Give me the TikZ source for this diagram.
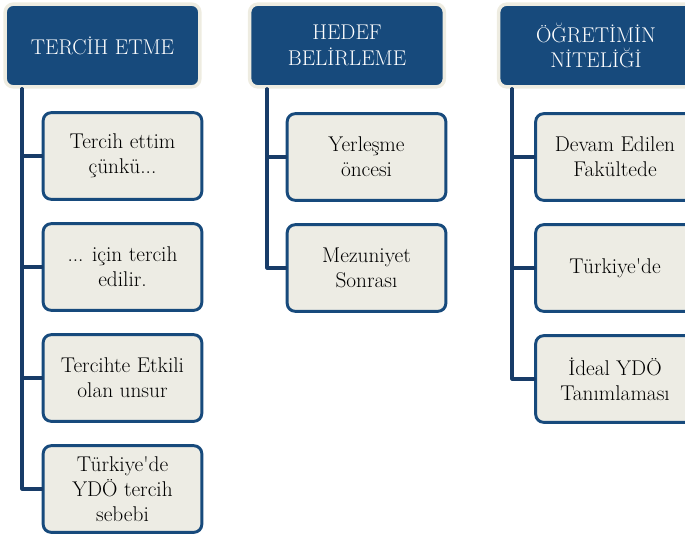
\documentclass[tikz,border=0pt]{standalone}
\usepackage{fontspec}
\setmainfont{Latin Modern Roman}[Ligatures=TeXOff]
\usetikzlibrary{positioning}
\definecolor{hdrblue}{RGB}{23,74,124}
\definecolor{boxfill}{RGB}{237,236,228}
\definecolor{halo}{RGB}{238,236,225}
\definecolor{linkblue}{RGB}{24,60,104}
\tikzset{
  hdr/.style={draw=halo,line width=2.6pt,fill=hdrblue,rounded corners=6pt,
    minimum width=146pt,minimum height=62pt,align=center,text=white,
    font=\fontsize{16}{19}\selectfont},
  item/.style={draw=hdrblue,line width=2.2pt,fill=boxfill,rounded corners=6pt,
    minimum width=119pt,minimum height=65pt,align=center,text=black,
    font=\fontsize{16}{19}\selectfont},
  link/.style={draw=linkblue,line width=2.4pt}
}
\begin{document}
\begin{tikzpicture}[x=0.75pt,y=-0.75pt,line cap=round,line join=round]
		\useasboundingbox (0,0) rectangle (685,539);
		% headers
		\node[hdr] (tercih) at (102.5,45.5) {TERCİH ETME};
		\node[hdr] (hedef) at (347,45.5) {HEDEF\\BELİRLEME};
		\node[hdr] (nitelik) at (596,45.5) {ÖĞRETİMİN\\NİTELİĞİ};
		% first column
		\node[item] (t1) at (122.5,156) {Tercih ettim\\çünkü...};
		\node[item] (t2) at (122.5,267) {... için tercih\\edilir.};
		\node[item] (t3) at (122.5,378) {Tercihte Etkili\\olan unsur};
		\node[item] (t4) at (122.5,489) {Türkiye'de\\YDÖ tercih\\sebebi};
		% second column
		\node[item] (h1) at (366.5,157) {Yerleşme\\öncesi};
		\node[item] (h2) at (366.5,268) {Mezuniyet\\Sonrası};
		% third column
		\node[item] (n1) at (615,157) {Devam Edilen\\Fakültede};
		\node[item] (n2) at (615,268) {Türkiye'de};
		\node[item] (n3) at (615,379) {İdeal YDÖ\\Tanımlaması};
		% connectors
		\coordinate (s1) at (22,89);
		\coordinate (s2) at (267,89);
		\coordinate (s3) at (512,89);
		\foreach \c in {t1,t2,t3,t4}
			\draw[link] (s1) |- (\c.west);
		\foreach \c in {h1,h2}
			\draw[link] (s2) |- (\c.west);
		\foreach \c in {n1,n2,n3}
			\draw[link] (s3) |- (\c.west);
	\end{tikzpicture}
\end{document}
